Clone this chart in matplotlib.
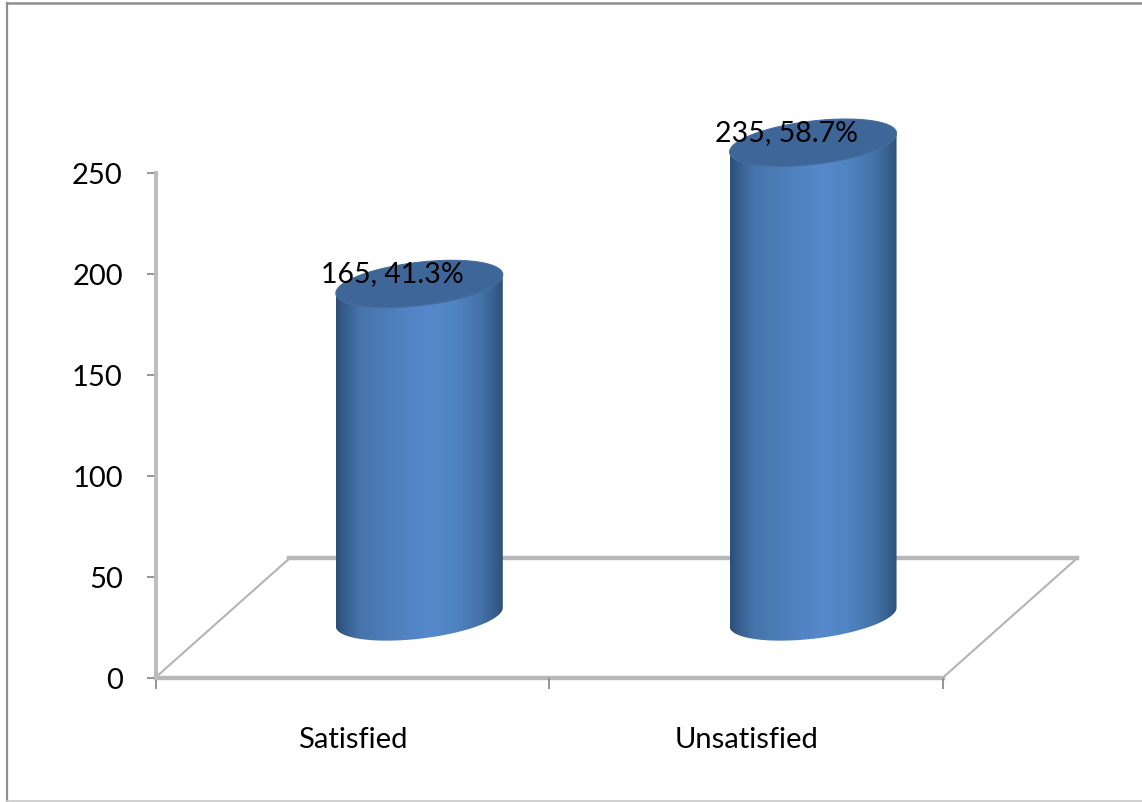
import numpy as np
import matplotlib
matplotlib.use("Agg")
import matplotlib.pyplot as plt
from matplotlib.colors import LinearSegmentedColormap
from matplotlib.lines import Line2D
from matplotlib.patches import PathPatch, Polygon
from matplotlib.path import Path

categories = ["Satisfied", "Unsatisfied"]
values = [165, 235]
percents = [41.3, 58.7]
y_ticks = [0, 50, 100, 150, 200, 250]

W, H = 1142, 803
plt.rcParams["font.family"] = ["Lato", "DejaVu Sans"]

fig = plt.figure(figsize=(W / 100, H / 100), dpi=100, facecolor="white")
ax = fig.add_axes([155.5 / W, 1 - 678.5 / H, (943 - 155.5) / W, (678.5 - 174) / H])
ax.set_facecolor("none")

# outer frame
for (x0, y0, x1, y1, c, lw) in [
    (7, 4, W, 4, "#8f8f8f", 1.8),
    (7, 4, 7, H, "#8f8f8f", 1.6),
    (7, 802, W, 802, "#c9c9c9", 1.2),
]:
    fig.add_artist(Line2D([x0 / W, x1 / W], [1 - y0 / H, 1 - y1 / H], color=c, lw=lw,
                          transform=fig.transFigure))

ax.set_xlim(-0.5, 1.5)
ax.set_ylim(0, 250)

# 3D-style offset of the floor
floor_dx, floor_dy = 0.34, 59
floor_x = [-0.5, 1.5, 1.5 + floor_dx, -0.5 + floor_dx]
floor_y = [0, 0, floor_dy, floor_dy]
ax.add_patch(Polygon(np.column_stack([floor_x, floor_y]), closed=True, fill=False,
                     ec="#b4b4b4", lw=1.5, clip_on=False, zorder=1, joinstyle="miter"))
ax.plot(floor_x[2:], floor_y[2:], color="#b8b8b8", lw=3.2, clip_on=False, zorder=1)
ax.plot(floor_x[:2], floor_y[:2], color="#b8b8b8", lw=3.2, clip_on=False, zorder=1)

# axes
for s in ["top", "right", "bottom"]:
    ax.spines[s].set_visible(False)
ax.spines["left"].set_color("#bcbcbc")
ax.spines["left"].set_linewidth(2.8)
ax.set_yticks(y_ticks)
ax.set_xticks([-0.5, 0.5, 1.5])
ax.set_xticklabels([])
ax.tick_params(axis="y", length=6.5, width=1.3, color="#8c8c8c", labelsize=21,
               pad=17, labelcolor="black")
ax.tick_params(axis="x", length=8, width=1.3, color="#8c8c8c")
for i, c in enumerate(categories):
    ax.text(i, -30.5, c, ha="center", va="center", fontsize=21, color="black")

# cylinders
half_w = 0.212
ry, ky = 10.8, 4.6
t = np.linspace(0, 2 * np.pi, 241)
cmap = LinearSegmentedColormap.from_list("cyl", [
    (0.00, "#2c4e78"), (0.05, "#365d8e"), (0.14, "#4674ab"), (0.35, "#4f80bd"),
    (0.55, "#5589cc"), (0.70, "#5085c4"), (0.86, "#4573aa"), (0.95, "#37608f"),
    (1.00, "#2f5078"),
])
grad = np.linspace(0, 1, 256).reshape(1, -1)

for i, v in enumerate(values):
    cx = i + floor_dx / 2
    y0 = 30
    y1 = v + 30
    u = np.linspace(np.pi, 2 * np.pi, 121)
    low_x = cx + half_w * np.cos(u)
    low_y = y0 + ry * np.sin(u) + ky * np.cos(u)
    up = np.linspace(0, np.pi, 121)
    top_x = cx + half_w * np.cos(up)
    top_y = y1 + ry * np.sin(up) + ky * np.cos(up)
    verts = np.column_stack([np.r_[low_x, top_x], np.r_[low_y, top_y]])
    verts = np.vstack([verts, verts[0]])
    clip = PathPatch(Path(verts, closed=True), transform=ax.transData, fc="none", ec="none")
    ax.add_patch(clip)
    clip.set_clip_on(False)
    im = ax.imshow(grad, cmap=cmap, aspect="auto", zorder=3, interpolation="bilinear",
                   extent=[cx - half_w, cx + half_w, y0 - ry - ky, y1 + ry + ky])
    im.set_clip_box(fig.bbox)
    im.set_clip_path(clip)
    # top face
    ex = cx + half_w * np.cos(t)
    ey = y1 + ry * np.sin(t) + ky * np.cos(t)
    ax.fill(ex, ey, fc="#3e6698", ec="#46709f", lw=0.8, clip_on=False, zorder=4)
    # label
    ax.text(cx - 0.068, y1 + 5.5, f"{v}, {percents[i]}%", ha="center", va="center",
            fontsize=20.5, color="black", zorder=5, clip_on=False)

ax.set_xlim(-0.5, 1.5)
ax.set_ylim(0, 250)
fig.savefig("out.png", dpi=100, facecolor="white")
